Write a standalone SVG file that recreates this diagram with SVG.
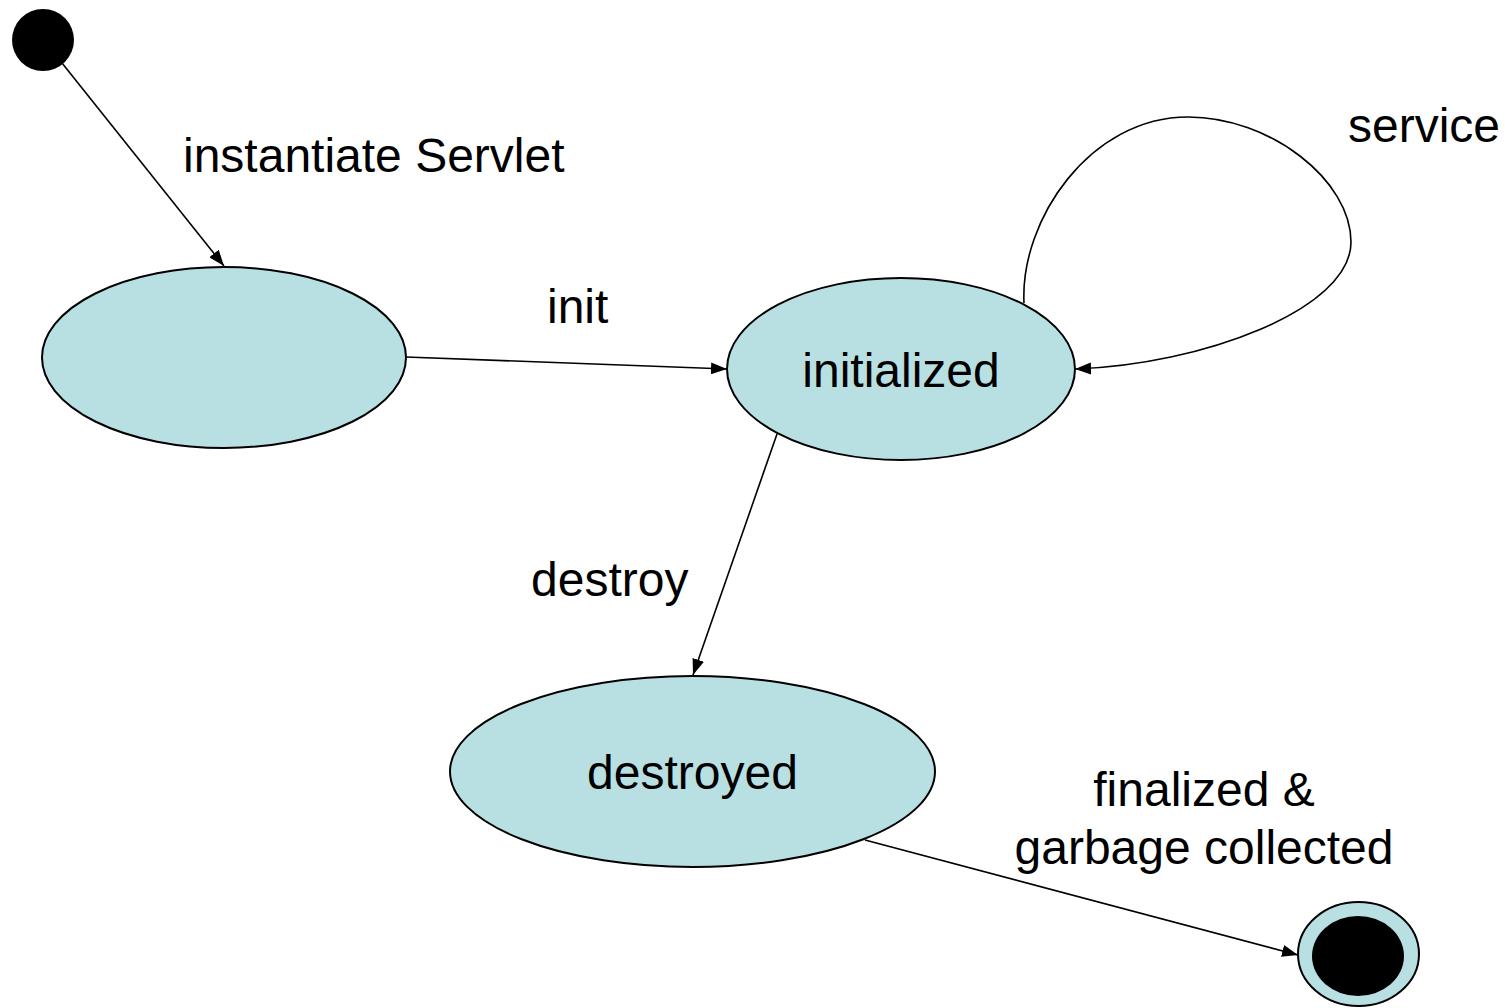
<svg xmlns="http://www.w3.org/2000/svg" width="1505" height="1008" viewBox="0 0 1505 1008">
<style>
.state{fill:#b8dfe2;stroke:#000;stroke-width:2}
.lbl{font-family:"Liberation Sans",Arial,sans-serif;font-size:48px;fill:#000}
.edge{fill:none;stroke:#000;stroke-width:1.6}
</style>
<defs>
<marker id="arr" viewBox="0 0 16 12" refX="16" refY="6" markerWidth="16" markerHeight="12" markerUnits="userSpaceOnUse" orient="auto">
<path d="M0,0 L16,6 L0,12 Z" fill="#000"/>
</marker>
</defs>
<rect width="1505" height="1008" fill="#fff"/>
<g id="edges">
<path class="edge" d="M62,63 L224,266" marker-end="url(#arr)"/>
<path class="edge" d="M406,357 L727,369" marker-end="url(#arr)"/>
<path class="edge" d="M1024,303 C1020,220 1090,117 1188,117 C1270,117 1351,180 1351,242 C1351,310 1200,365 1075,369" marker-end="url(#arr)"/>
<path class="edge" d="M777,434 L693,675" marker-end="url(#arr)"/>
<path class="edge" d="M865,840 L1298,955" marker-end="url(#arr)"/>
</g>
<g id="start"><circle cx="43" cy="40" r="31" fill="#000"/></g>
<g id="s1"><ellipse class="state" cx="224" cy="357.5" rx="182" ry="90.5"/></g>
<g id="initialized"><ellipse class="state" cx="901" cy="369" rx="174" ry="91"/><text class="lbl" x="901" y="387" text-anchor="middle">initialized</text></g>
<g id="destroyed"><ellipse class="state" cx="692.5" cy="771.5" rx="242.5" ry="95.5"/><text class="lbl" x="692.5" y="789" text-anchor="middle">destroyed</text></g>
<g id="final"><ellipse class="state" cx="1358.5" cy="954" rx="60.5" ry="52"/><ellipse cx="1358" cy="956" rx="46" ry="40" fill="#000"/></g>
<g id="labels">
<text class="lbl" x="183" y="172">instantiate Servlet</text>
<text class="lbl" x="547" y="323">init</text>
<text class="lbl" x="1348" y="142">service</text>
<text class="lbl" x="531" y="596">destroy</text>
<text class="lbl" x="1204" y="806" text-anchor="middle">finalized &amp;</text>
<text class="lbl" x="1204" y="864" text-anchor="middle">garbage collected</text>
</g>
</svg>
